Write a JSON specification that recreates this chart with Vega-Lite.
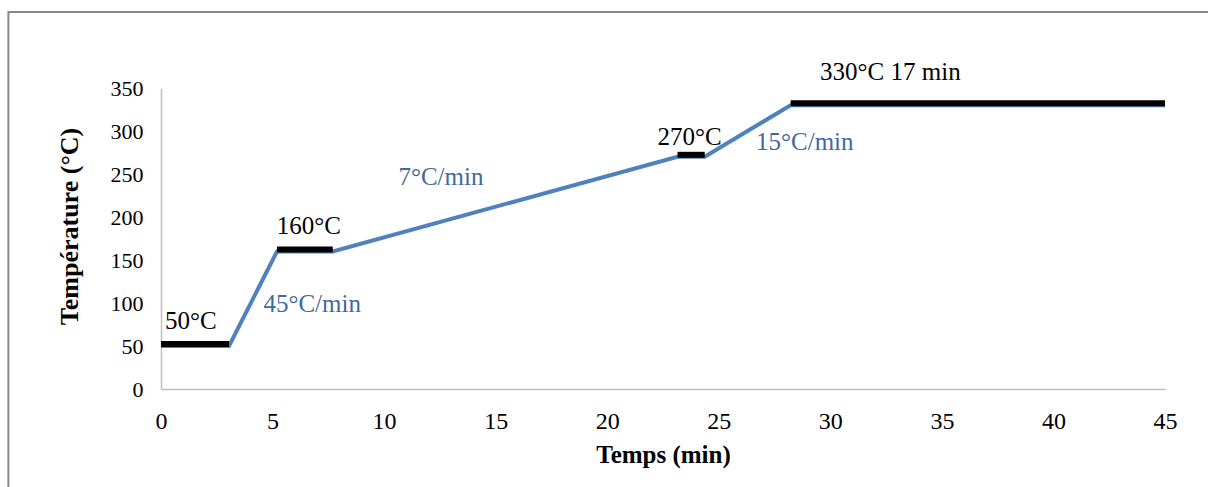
{
  "$schema": "https://vega.github.io/schema/vega-lite/v6.json",
  "width": 1004,
  "height": 301,
  "autosize": {"type": "none"},
  "padding": {"left": 161, "top": 88, "right": 43, "bottom": 98},
  "background": "white",
  "config": {
    "view": {"stroke": null},
    "font": "Liberation Serif",
    "axisX": {
      "grid": false, "ticks": false,
      "domainColor": "#bfbfbf", "domainWidth": 1.5,
      "labelFont": "Liberation Serif", "labelFontSize": 24, "labelColor": "black",
      "labelPadding": 20, "labelFlush": false, "labelOverlap": false, "labelBound": false,
      "titleFont": "Liberation Serif", "titleFontSize": 25, "titleFontWeight": "bold", "titleColor": "black",
      "titlePadding": 9
    },
    "axisY": {
      "grid": false, "ticks": false,
      "domainColor": "#bfbfbf", "domainWidth": 1.5,
      "labelFont": "Liberation Serif", "labelFontSize": 22, "labelColor": "black",
      "labelPadding": 18, "labelFlush": false, "labelOverlap": false, "labelBound": false,
      "titleFont": "Liberation Serif", "titleFontSize": 26, "titleFontWeight": "bold", "titleColor": "black",
      "titlePadding": 28, "titleY": 138
    }
  },
  "datasets": {
    "profile": [
      {"t": 0, "temp": 50},
      {"t": 3.05, "temp": 50},
      {"t": 5.2, "temp": 160},
      {"t": 7.7, "temp": 160},
      {"t": 23.15, "temp": 270},
      {"t": 24.37, "temp": 270},
      {"t": 28.22, "temp": 330},
      {"t": 45, "temp": 330}
    ],
    "holds": [
      {"t": 0, "t_end": 3.05, "temp": 50},
      {"t": 5.2, "t_end": 7.7, "temp": 160},
      {"t": 23.15, "t_end": 24.37, "temp": 270},
      {"t": 28.22, "t_end": 45, "temp": 330}
    ],
    "notes": [
      {"label": "50°C", "t": 0.18, "temp": 70, "kind": "step"},
      {"label": "160°C", "t": 5.19, "temp": 180, "kind": "step"},
      {"label": "270°C", "t": 22.25, "temp": 284, "kind": "step"},
      {"label": "330°C 17 min", "t": 29.54, "temp": 359, "kind": "step"},
      {"label": "45°C/min", "t": 4.59, "temp": 90, "kind": "rate"},
      {"label": "7°C/min", "t": 10.64, "temp": 237.5, "kind": "rate"},
      {"label": "15°C/min", "t": 26.67, "temp": 278, "kind": "rate"}
    ]
  },
  "layer": [
    {
      "data": {"name": "profile"},
      "mark": {"type": "line", "color": "#4f81bd", "strokeWidth": 4},
      "encoding": {
        "x": {"field": "t", "type": "quantitative", "scale": {"domain": [0, 45], "nice": false, "zero": false}, "axis": {"title": "Temps (min)", "values": [0, 5, 10, 15, 20, 25, 30, 35, 40, 45]}},
        "y": {"field": "temp", "type": "quantitative", "scale": {"domain": [0, 350], "nice": false}, "axis": {"title": "Température (°C)", "values": [0, 50, 100, 150, 200, 250, 300, 350]}}
      }
    },
    {
      "data": {"name": "holds"},
      "mark": {"type": "rule", "color": "black", "strokeWidth": 6, "yOffset": -2, "strokeCap": "butt"},
      "encoding": {
        "x": {"field": "t", "type": "quantitative", "scale": {"domain": [0, 45], "nice": false, "zero": false}, "axis": {"title": "Temps (min)", "values": [0, 5, 10, 15, 20, 25, 30, 35, 40, 45]}},
        "x2": {"field": "t_end"},
        "y": {"field": "temp", "type": "quantitative", "scale": {"domain": [0, 350], "nice": false}, "axis": {"title": "Température (°C)", "values": [0, 50, 100, 150, 200, 250, 300, 350]}}
      }
    },
    {
      "data": {"name": "notes"},
      "mark": {"type": "text", "align": "left", "baseline": "alphabetic", "font": "Liberation Serif", "fontSize": 25},
      "encoding": {
        "x": {"field": "t", "type": "quantitative", "scale": {"domain": [0, 45], "nice": false, "zero": false}, "axis": {"title": "Temps (min)", "values": [0, 5, 10, 15, 20, 25, 30, 35, 40, 45]}},
        "y": {"field": "temp", "type": "quantitative", "scale": {"domain": [0, 350], "nice": false}, "axis": {"title": "Température (°C)", "values": [0, 50, 100, 150, 200, 250, 300, 350]}},
        "text": {"field": "label"},
        "color": {"field": "kind", "type": "nominal", "scale": {"domain": ["step", "rate"], "range": ["black", "#41699d"]}, "legend": null}
      }
    },
    {
      "data": {"values": [{}]},
      "mark": {"type": "rect", "fill": null, "stroke": "#888888", "strokeWidth": 2, "clip": false},
      "encoding": {
        "x": {"datum": -6.84, "type": "quantitative", "scale": {"domain": [0, 45], "nice": false, "zero": false}, "axis": {"title": "Temps (min)", "values": [0, 5, 10, 15, 20, 25, 30, 35, 40, 45]}},
        "x2": {"datum": 50},
        "y": {"datum": 438.4, "type": "quantitative", "scale": {"domain": [0, 350], "nice": false}, "axis": {"title": "Température (°C)", "values": [0, 50, 100, 150, 200, 250, 300, 350]}},
        "y2": {"datum": -150}
      }
    }
  ]
}
